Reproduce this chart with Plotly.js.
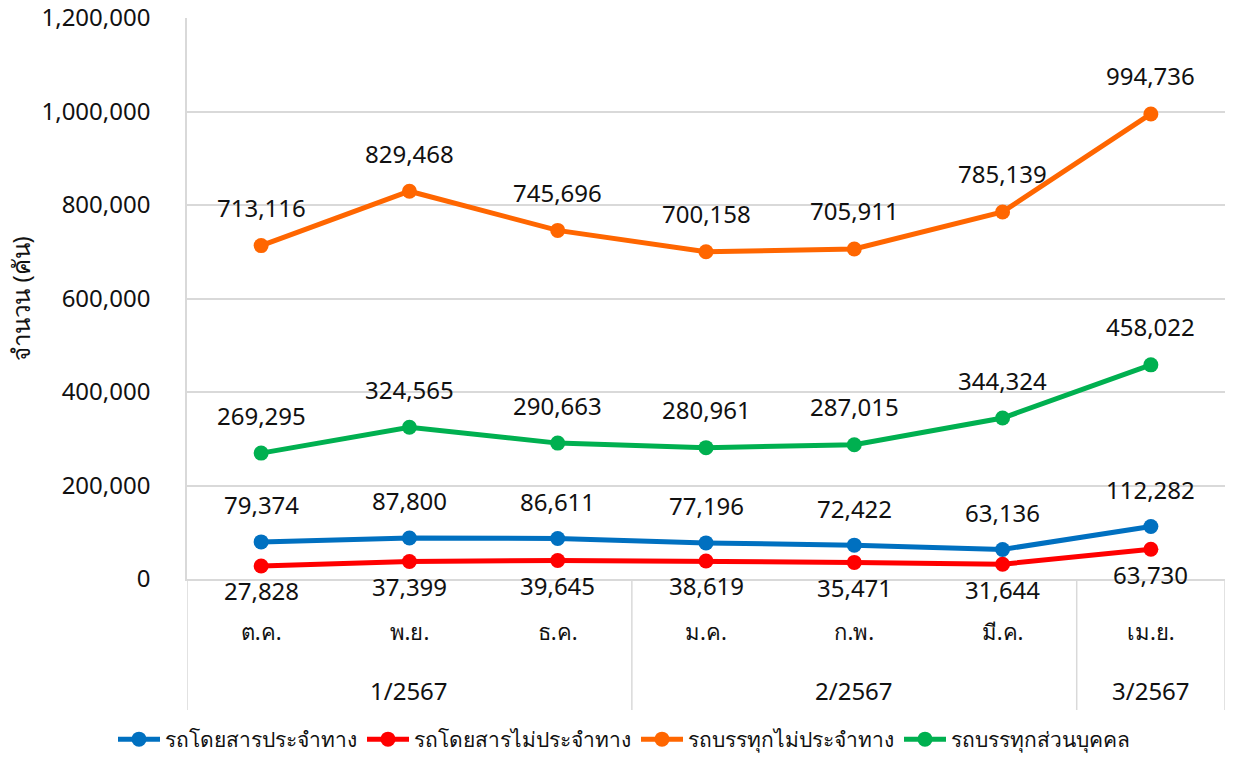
<!DOCTYPE html>
<html>
<head>
<meta charset="utf-8">
<script src="https://cdn.plot.ly/plotly-3.0.1.min.js"></script>
<style>
body { margin: 0; background: #fff; }
#the_plot { width: 1248px; height: 760px; }
</style>
</head>
<body>
<div id="the_plot"></div>
<script>
// categories
var months = ["ต.ค.", "พ.ย.", "ธ.ค.", "ม.ค.", "ก.พ.", "มี.ค.", "เม.ย."]
var quarters = ["1/2567", "1/2567", "1/2567", "2/2567", "2/2567", "2/2567", "3/2567"]

// series values
var bus_fixed = [79374, 87800, 86611, 77196, 72422, 63136, 112282]
var bus_nonfixed = [27828, 37399, 39645, 38619, 35471, 31644, 63730]
var truck_nonfixed = [713116, 829468, 745696, 700158, 705911, 785139, 994736]
var truck_private = [269295, 324565, 290663, 280961, 287015, 344324, 458022]

var names = ["รถโดยสารประจำทาง", "รถโดยสารไม่ประจำทาง", "รถบรรทุกไม่ประจำทาง", "รถบรรทุกส่วนบุคคล"]
var colors = ["#0070C0", "#FF0000", "#FF6600", "#00B050"]
var series = [bus_fixed, bus_nonfixed, truck_nonfixed, truck_private]
var label_shift = [37, -25, 38, 38]

var thai_font = "Tahoma, 'Noto Sans', 'DejaVu Sans', sans-serif"
var text_color = "#111"
var grid_color = "#d9d9d9"

function fmt(v) {
    return v.toLocaleString("en-US")
}

var data = []
var annotations = []
var shapes = []

for (var s = 0; s < series.length; s++) {
    data.push({
        x: months,
        y: series[s],
        name: names[s],
        type: "scatter",
        mode: "lines+markers",
        line: {color: colors[s], width: 5},
        marker: {color: colors[s], size: 15},
        hoverinfo: "y+name"
    })
    // data labels
    for (var i = 0; i < series[s].length; i++) {
        annotations.push({
            x: months[i],
            y: series[s][i],
            xref: "x",
            yref: "y",
            text: fmt(series[s][i]),
            showarrow: false,
            yshift: label_shift[s],
            font: {family: thai_font, size: 24, color: text_color}
        })
    }
}

// quarter group labels + dividers under the axis
var group_start = 0
for (var i = 0; i <= quarters.length; i++) {
    if (i == quarters.length || quarters[i] != quarters[group_start]) {
        annotations.push({
            x: (group_start + i - 1) / 2,
            y: -0.198,
            xref: "x",
            yref: "paper",
            text: quarters[group_start],
            showarrow: false,
            yanchor: "middle",
            font: {family: thai_font, size: 24, color: text_color}
        })
        shapes.push({
            type: "line", xref: "x", yref: "paper",
            x0: group_start - 0.5, x1: group_start - 0.5, y0: 0, y1: -0.2335,
            line: {color: grid_color, width: 1.5}
        })
        group_start = i
    }
}
shapes.push({
    type: "line", xref: "x", yref: "paper",
    x0: quarters.length - 0.5, x1: quarters.length - 0.5, y0: 0, y1: -0.2335,
    line: {color: grid_color, width: 1.5}
})

function setup_plot() {
    var layout = {
        width: 1248,
        height: 760,
        margin: {l: 187, r: 23, t: 18, b: 181},
        paper_bgcolor: "#fff",
        plot_bgcolor: "#fff",
        font: {family: thai_font, size: 24, color: text_color},
        showlegend: true,
        legend: {
            orientation: "h",
            xref: "container",
            yref: "container",
            x: 0.5,
            xanchor: "center",
            y: 0,
            yanchor: "bottom",
            font: {size: 21, color: text_color},
            itemwidth: 42
        },
        xaxis: {
            type: "category",
            range: [-0.5, months.length - 0.5],
            showgrid: false,
            showline: true,
            linecolor: grid_color,
            linewidth: 1.5,
            zeroline: false,
            ticks: "",
            ticklabelstandoff: 33,
            tickfont: {size: 22, color: text_color}
        },
        yaxis: {
            range: [0, 1200000],
            dtick: 200000,
            tickformat: ",d",
            showgrid: true,
            gridcolor: grid_color,
            gridwidth: 1.5,
            zeroline: false,
            showline: true,
            linecolor: grid_color,
            linewidth: 1.5,
            ticks: "",
            ticklabelstandoff: 30,
            tickfont: {size: 24, color: text_color},
            title: {text: "จำนวน (คัน)", font: {size: 24, color: text_color}, standoff: 4}
        },
        annotations: annotations,
        shapes: shapes
    }
    Plotly.newPlot("the_plot", data, layout, {displayModeBar: false})
}

setup_plot()
</script>
</body>
</html>
